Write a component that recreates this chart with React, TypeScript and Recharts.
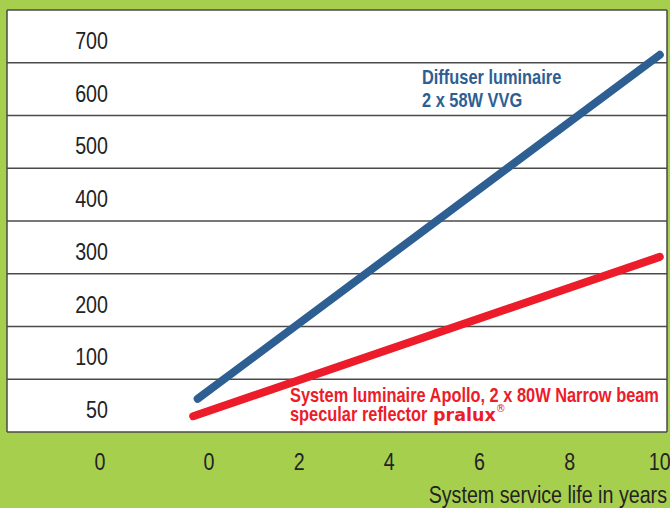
import React from "react";
import {
  LineChart,
  Line,
  XAxis,
  YAxis,
  CartesianGrid,
  ReferenceDot,
} from "recharts";

// ---- data ----
const diffuserYears = [-0.25, 10.0];
const diffuserValues = [13, 665];
const apolloYears = [-0.35, 10.0];
const apolloValues = [-20, 282];

const xTickValues = [-2.42, 0, 2, 4, 6, 8, 10];
const xTickLabels = ["0", "0", "2", "4", "6", "8", "10"];
const yTickValues = [0, 100, 200, 300, 400, 500, 600, 700];
const yTickLabels = ["50", "100", "200", "300", "400", "500", "600", "700"];
const gridValues = [-50, 50, 150, 250, 350, 450, 550, 650, 750];

const diffuserLabel = ["Diffuser luminaire", "2 x 58W VVG"];
const apolloLabel = ["System luminaire Apollo, 2 x 80W Narrow beam", "specular reflector "];
const brandName = "pralux";
const xAxisTitle = "System service life in years";

const diffuserData = diffuserYears.map((x, i) => ({ x, v: diffuserValues[i] }));
const apolloData = apolloYears.map((x, i) => ({ x, v: apolloValues[i] }));

const FONT = "'Liberation Sans', Arial, sans-serif";
const SQUEEZE = 0.82;
const GREEN = "#a6cf4e";
const BLUE = "#2e5f93";
const RED = "#ec1c2a";
const TEXT = "#232323";
const GRID = "#4a4a4a";

const Narrow = (p: any) => (
  <g transform={`translate(${p.x},${p.y}) scale(${SQUEEZE},1)`}>
    <text
      x={0}
      y={0}
      textAnchor={p.anchor || "start"}
      fontFamily={FONT}
      fontSize={p.size}
      fontWeight={p.weight || "normal"}
      fill={p.fill}
    >
      {p.children}
    </text>
  </g>
);

const YTick = (props: any) => {
  const { x, y, index } = props;
  return (
    <Narrow x={x + 101} y={y + 4 + 8.6} anchor="end" size={24} fill={TEXT}>
      {yTickLabels[index]}
    </Narrow>
  );
};

const XTick = (props: any) => {
  const { x, y, index } = props;
  return (
    <Narrow x={x} y={y + 17} anchor="middle" size={24} fill={TEXT}>
      {xTickLabels[index]}
    </Narrow>
  );
};

const DiffuserText = (props: any) => {
  const { viewBox } = props;
  return (
    <Narrow x={viewBox.x} y={viewBox.y} size={20} weight="bold" fill={BLUE}>
      <tspan x={0} y={0}>{diffuserLabel[0]}</tspan>
      <tspan x={0} y={23}>{diffuserLabel[1]}</tspan>
    </Narrow>
  );
};

const ApolloText = (props: any) => {
  const { viewBox } = props;
  const x = viewBox.x;
  const y = viewBox.y;
  return (
    <g>
      <Narrow x={x} y={y} size={20} weight="bold" fill={RED}>
        <tspan x={0} y={0}>{apolloLabel[0]}</tspan>
        <tspan x={0} y={19}>{apolloLabel[1]}</tspan>
      </Narrow>
      <text x={x + 143} y={y + 19} fontFamily="'DejaVu Sans', sans-serif" fontWeight="bold" fontSize={17.5} fill={RED}>
        {brandName}
        <tspan fontSize={10} dy={-9} fontWeight="normal">®</tspan>
      </text>
    </g>
  );
};

const AxisTitle = (props: any) => {
  const { viewBox } = props;
  return (
    <Narrow x={viewBox.x + viewBox.width} y={viewBox.y + 71} anchor="end" size={24} fill={TEXT}>
      {xAxisTitle}
    </Narrow>
  );
};

const hGen = (args: any) => {
  const s = args?.yAxis?.scale;
  if (typeof s === "function") return gridValues.map((v) => s(v));
  const { offset } = args;
  return gridValues.map((v) => offset.top + offset.height * (1 - (v + 50) / 800));
};

const vGen = (args: any) => {
  const { offset } = args;
  return [offset.left, offset.left + offset.width];
};

export default function App() {
  return (
    <div style={{ position: "absolute", left: 0, top: 0, width: 670, height: 508, background: GREEN }}>
      <LineChart
        width={670}
        height={508}
        margin={{ top: 10, right: 3, left: 6, bottom: 0 }}
      >
        <CartesianGrid
          fill="#ffffff"
          fillOpacity={1}
          stroke={GRID}
          strokeWidth={1.5}
          strokeDasharray="0"
          horizontalCoordinatesGenerator={hGen}
          verticalCoordinatesGenerator={vGen}
        />
        <XAxis
          type="number"
          dataKey="x"
          domain={[-4.48, 10.16]}
          allowDataOverflow
          ticks={xTickValues}
          interval={0}
          axisLine={false}
          tickLine={false}
          tickSize={0}
          tickMargin={21}
          height={76}
          tick={<XTick />}
          label={<AxisTitle />}
        />
        <YAxis
          type="number"
          dataKey="v"
          domain={[-50, 750]}
          allowDataOverflow
          ticks={yTickValues}
          interval={0}
          width={1}
          axisLine={false}
          tickLine={false}
          tickSize={0}
          tickMargin={0}
          tick={<YTick />}
        />
        <Line
          data={diffuserData}
          dataKey="v"
          stroke={BLUE}
          strokeWidth={8}
          strokeLinecap="round"
          dot={false}
          isAnimationActive={false}
        />
        <Line
          data={apolloData}
          dataKey="v"
          stroke={RED}
          strokeWidth={8}
          strokeLinecap="round"
          dot={false}
          isAnimationActive={false}
        />
        <ReferenceDot x={4.725} y={609.7} r={0} fill="none" stroke="none" label={<DiffuserText />} />
        <ReferenceDot x={1.797} y={6.9} r={0} fill="none" stroke="none" label={<ApolloText />} />
      </LineChart>
    </div>
  );
}
